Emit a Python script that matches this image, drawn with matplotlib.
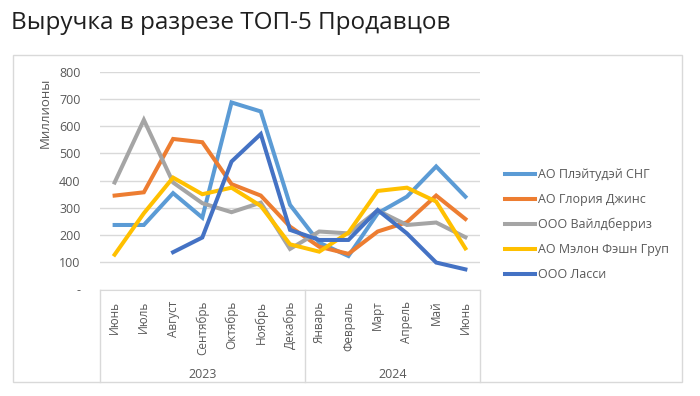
import matplotlib.pyplot as plt
from matplotlib.lines import Line2D
from matplotlib.patches import Rectangle

plt.rcParams['font.family'] = ['Open Sans', 'DejaVu Sans']

# Данные
months = ['Июнь', 'Июль', 'Август', 'Сентябрь', 'Октябрь', 'Ноябрь', 'Декабрь',
          'Январь', 'Февраль', 'Март', 'Апрель', 'Май', 'Июнь']
years = ['2023', '2024']
year_spans = [(0, 6), (7, 12)]

names = ['АО Плэйтудэй СНГ', 'АО Глория Джинс', 'ООО Вайлдберриз',
         'АО Мэлон Фэшн Груп', 'ООО Ласси']
playtoday = [237, 237, 354, 264, 687, 654, 311, 172, 123, 280, 341, 452, 341]
gloria = [345, 357, 553, 541, 387, 345, 231, 157, 131, 213, 247, 345, 259]
wildberries = [393, 623, 393, 317, 284, 319, 149, 213, 206, 290, 237, 246, 192]
melon = [128, 280, 411, 350, 374, 307, 166, 139, 209, 362, 374, 323, 151]
lassie = [None, None, 137, 191, 470, 571, 219, 182, 182, 292, 206, 99, 74]
series = [playtoday, gloria, wildberries, melon, lassie]
colors = ['#5B9BD5', '#ED7D31', '#A5A5A5', '#FFC000', '#4472C4']

yticks = [0, 100, 200, 300, 400, 500, 600, 700, 800]
ytick_labels = ['-', '100', '200', '300', '400', '500', '600', '700', '800']

W, H = 700, 396
fig = plt.figure(figsize=(7, 3.96), dpi=100)

def fx(px):
    return px / W

def fy(py):
    return 1 - py / H

# рамка диаграммы
fig.patches.append(Rectangle((fx(13), fy(382)), fx(682) - fx(13), fy(55) - fy(382),
                             transform=fig.transFigure, fill=False,
                             edgecolor='#D9D9D9', linewidth=1))

fig.text(fx(11), fy(23), 'Выручка в разрезе ТОП-5 Продавцов', fontsize=17.5,
         color='#1F1F1F', va='center', ha='left')

top, bottom = 71.7, 289.5
ax = fig.add_axes([fx(100), fy(bottom), fx(480) - fx(100), fy(top) - fy(bottom)])

x = list(range(len(months)))
for vals, name, c in zip(series, names, colors):
    xs = [i for i, v in zip(x, vals) if v is not None]
    ys = [v for v in vals if v is not None]
    ax.plot(xs, ys, color=c, linewidth=2.9, label=name, solid_joinstyle='miter')

ax.set_xlim(-0.5, len(months) - 0.5)
ax.set_ylim(0, 800)
ax.set_yticks(yticks)
ax.set_yticklabels(ytick_labels)
ax.tick_params(axis='y', length=0, pad=14, labelsize=9, labelcolor='#595959')
ax.yaxis.grid(True, color='#D9D9D9', linewidth=1)
ax.set_axisbelow(True)
for s in ['left', 'right', 'top']:
    ax.spines[s].set_visible(False)
ax.spines['bottom'].set_color('#D9D9D9')

ax.set_xticks(x)
ax.set_xticklabels(months, rotation=90, va='top', ha='center')
ax.tick_params(axis='x', length=0, pad=8, labelsize=8.5, labelcolor='#595959')

# разделители категорий и годы
axh = bottom - top
def ay(py):
    return (bottom - py) / axh

tr = ax.get_xaxis_transform()
for xv in [-0.5, 6.5, 12.5]:
    ax.add_line(Line2D([xv, xv], [0, ay(382)], transform=tr, color='#D9D9D9',
                       linewidth=1, clip_on=False))
for (a, b), yr in zip(year_spans, years):
    ax.text((a + b) / 2, ay(375), yr, transform=tr, ha='center', va='center',
            fontsize=9, color='#595959')

fig.text(fx(45), fy(113), 'Миллионы', rotation=90, ha='center', va='center',
         fontsize=9.5, color='#595959')

leg = fig.legend(loc='upper left', bbox_to_anchor=(fx(494), fy(157)),
                 frameon=False, fontsize=9, labelcolor='#595959',
                 handlelength=2.4, handletextpad=0.2, labelspacing=0.95)
for line in leg.get_lines():
    line.set_linewidth(2.9)

fig.savefig('out.png', dpi=100)
